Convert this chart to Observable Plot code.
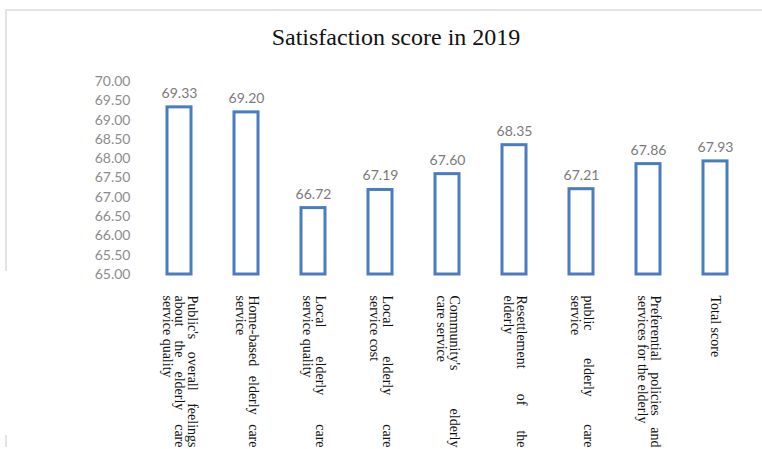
<!DOCTYPE html>
<html>
<head>
<meta charset="utf-8">
<script src="https://cdn.jsdelivr.net/npm/d3@7"></script>
<script src="https://cdn.jsdelivr.net/npm/@observablehq/plot@0.6"></script>
<style>
  html, body { margin: 0; padding: 0; background: #fff; }
  #wrap { position: relative; width: 762px; height: 449px; overflow: hidden; }
  #title { position: absolute; left: 0; width: 792px; top: 23px; text-align: center; line-height: 28px;
           font-family: "Liberation Serif", "Times New Roman", serif; font-size: 24px; color: #111; }
  .bt { position: absolute; left: 5px; top: 9px; width: 757px; height: 2px; background: #e4e4e4; }
  .bl { position: absolute; left: 5px; top: 9px; width: 2px; height: 262px; background: #e4e4e4; }
  .bl2 { position: absolute; left: 5px; top: 435px; width: 2px; height: 12px; background: #e4e4e4; }
  svg { position: absolute; left: 0; top: 0; }
</style>
</head>
<body>
<div id="wrap">
  <div class="bt"></div><div class="bl"></div><div class="bl2"></div>
  <div id="chart"></div>
  <div id="title">Satisfaction score in 2019</div>
</div>
<script>
const categories = [
  "Public's overall feelings\nabout the elderly care\nservice quality",
  "Home-based elderly care\nservice",
  "Local elderly care\nservice quality",
  "Local elderly care\nservice cost",
  "Community's elderly\ncare service",
  "Resettlement of the\nelderly",
  "public elderly care\nservice",
  "Preferential policies and\nservices for the elderly",
  "Total score"
];
const scores = [69.33, 69.20, 66.72, 67.19, 67.60, 68.35, 67.21, 67.86, 67.93];
const yTicks = [65.00, 65.50, 66.00, 66.50, 67.00, 67.50, 68.00, 68.50, 69.00, 69.50, 70.00];
const yBase = 65;

const data = categories.map((c, i) => ({category: c, score: scores[i]}));

const chart = Plot.plot({
  width: 762,
  height: 449,
  marginTop: 81,
  marginBottom: 175,
  marginLeft: 144,
  marginRight: 12,
  style: {background: "transparent", overflow: "hidden"},
  x: {type: "band", domain: categories, range: [144, 750], paddingInner: 0.64, paddingOuter: 0.32, axis: null},
  y: {domain: [65, 70], axis: null},
  marks: [
    Plot.axisY({
      ticks: yTicks, tickSize: 0, tickPadding: 14,
      tickFormat: d => d.toFixed(2),
      fontSize: 14, fill: "#8c8c8c", fontFamily: "Lato, 'Noto Sans', sans-serif",
      label: null
    }),
    Plot.barY(data, {
      x: "category", y1: () => yBase, y2: "score",
      fill: "white", stroke: "#4a7cc0", strokeWidth: 3
    }),
    Plot.text(data, {
      x: "category", y: "score", text: d => d.score.toFixed(2),
      dy: -14, fontSize: 14, fill: "#7a7a7a", fontFamily: "Lato, 'Noto Sans', sans-serif"
    }),
    Plot.text(data, {
      x: "category", text: "category", frameAnchor: "bottom", dy: 21,
      rotate: 90, textAnchor: "start", lineAnchor: "middle", lineHeight: 0.9,
      fontSize: 14, fill: "#111", fontFamily: "'Liberation Serif', 'Times New Roman', serif",
      className: "catlabel"
    })
  ]
});
document.getElementById("chart").appendChild(chart);

// justify all but last line of each category label
const W = 152;
d3.select(chart).selectAll(".catlabel text").each(function() {
  const tspans = d3.select(this).selectAll("tspan").nodes();
  tspans.forEach((t, i) => {
    if (i === tspans.length - 1) return;
    const txt = t.textContent;
    const nSp = (txt.match(/ /g) || []).length;
    if (!nSp) return;
    const len = t.getComputedTextLength();
    const extra = (W - len) / nSp;
    if (extra > 0) t.setAttribute("word-spacing", extra.toFixed(2));
  });
});
</script>
</body>
</html>
